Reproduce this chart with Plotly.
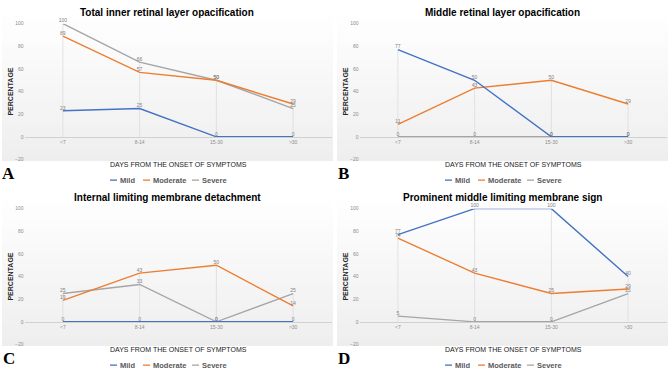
import plotly.graph_objects as go

W, H = 669, 376

categories = ["<7", "8-14", "15-30", ">30"]
series_names = ["Mild", "Moderate", "Severe"]
colors = ["#4472C4", "#ED7D31", "#A5A5A5"]

titles = ["Total inner retinal layer opacification",
          "Middle retinal layer opacification",
          "Internal limiting membrane detachment",
          "Prominent middle limiting membrane sign"]
letters = ["A", "B", "C", "D"]

a_mild = [23, 25, 0, 0]
a_moderate = [89, 57, 50, 29]
a_severe = [100, 66, 50, 25]

b_mild = [77, 50, 0, 0]
b_moderate = [11, 43, 50, 29]
b_severe = [0, 0, 0, 0]

c_mild = [0, 0, 0, 0]
c_moderate = [19, 43, 50, 14]
c_severe = [25, 33, 0, 25]

d_mild = [77, 100, 100, 40]
d_moderate = [74, 43, 25, 29]
d_severe = [5, 0, 0, 25]

y_ticks = [-20, 0, 20, 40, 60, 80, 100]

panels = [
    [a_mild, a_moderate, a_severe],
    [b_mild, b_moderate, b_severe],
    [c_mild, c_moderate, c_severe],
    [d_mild, d_moderate, d_severe],
]

offsets = [(0, 0), (335, 0), (0, 188), (335, 188)]

def px(x):
    return x / W

def py(y):
    return 1 - y / H

fig = go.Figure()
shapes = []
annotations = []
layout_axes = {}

FONT = "Liberation Sans Narrow, Liberation Sans, sans-serif"
TICK_COL = "#8c8c8c"

legend_items = [(110, 118.5), (143, 151.5), (192, 200.5)]

for i, (vals, (ox, oy)) in enumerate(zip(panels, offsets)):
    n = "" if i == 0 else str(i + 1)
    xa, ya = "x" + n, "y" + n
    left, right = ox + 24.5, ox + 331.5
    top, bottom = oy + 21, oy + 159
    xdom = [px(left), px(right)]
    ydom = [py(bottom), py(top)]
    zero_pos = ydom[0] + (ydom[1] - ydom[0]) * 20 / 120

    steps = 28
    g_top, g_bot = oy + 8, oy + 160
    for s in range(steps):
        t = (s + 0.5) / steps
        c = int(round(255 - 17 * t))
        y0 = g_top + (g_bot - g_top) * s / steps
        y1 = g_top + (g_bot - g_top) * (s + 1) / steps
        shapes.append(dict(type="rect", xref="paper", yref="paper",
                           x0=px(ox + 2), x1=px(ox + 333), y0=py(y1 + 0.5), y1=py(y0),
                           fillcolor=f"rgb({c},{c},{c})", line=dict(width=0), layer="below"))

    dx, dy = [], []
    for k, cat in enumerate(categories):
        m = max(v[k] for v in vals)
        dx += [cat, cat, None]
        dy += [0, m, None]
    fig.add_trace(go.Scatter(x=dx, y=dy, mode="lines", xaxis=xa, yaxis=ya,
                             line=dict(color="#dcdcdc", width=0.8),
                             showlegend=False, hoverinfo="skip"))

    for j in [2, 1, 0]:
        fig.add_trace(go.Scatter(
            x=categories, y=vals[j], mode="lines+text", xaxis=xa, yaxis=ya,
            name=series_names[j], line=dict(color=colors[j], width=1.4),
            text=[str(v) for v in vals[j]], textposition="top center",
            textfont=dict(size=5, color="#7f7f7f", family=FONT),
            showlegend=False, cliponaxis=False))

    layout_axes["xaxis" + n] = dict(
        domain=xdom, anchor="free", position=zero_pos, type="category",
        range=[-0.5, 3.5], showgrid=False, zeroline=False,
        showline=True, linecolor="#d0d0d0", linewidth=1, ticks="",
        tickfont=dict(size=5, color=TICK_COL, family=FONT), fixedrange=True)
    layout_axes["yaxis" + n] = dict(
        domain=ydom, anchor=xa, range=[-20, 100], tickvals=y_ticks,
        showgrid=False, zeroline=False, showline=False, ticks="",
        tickfont=dict(size=5, color=TICK_COL, family=FONT), fixedrange=True)

    annotations.append(dict(text="<b>" + titles[i] + "</b>", xref="paper", yref="paper",
                            x=px(ox + 167), y=py(oy + 10), showarrow=False,
                            font=dict(size=10, color="#000000", family=FONT),
                            xanchor="center", yanchor="middle"))
    annotations.append(dict(text="<b>PERCENTAGE</b>", xref="paper", yref="paper",
                            x=px(ox + 11), y=py(oy + 90), showarrow=False, textangle=-90,
                            font=dict(size=7, color="#262626", family=FONT),
                            xanchor="center", yanchor="middle"))
    annotations.append(dict(text="DAYS FROM THE ONSET OF SYMPTOMS", xref="paper", yref="paper",
                            x=px(ox + 178), y=py(oy + 164.5), showarrow=False,
                            font=dict(size=7, color="#1a1a1a", family=FONT),
                            xanchor="center", yanchor="middle"))
    for j, (dash_x, text_x) in enumerate(legend_items):
        shapes.append(dict(type="line", xref="paper", yref="paper",
                           x0=px(ox + dash_x), x1=px(ox + dash_x + 7),
                           y0=py(oy + 180), y1=py(oy + 180),
                           line=dict(color=colors[j], width=1.3)))
        annotations.append(dict(text="<b>" + series_names[j] + "</b>", xref="paper", yref="paper",
                                x=px(ox + text_x), y=py(oy + 180), showarrow=False,
                                font=dict(size=7.5, color="#595959", family=FONT),
                                xanchor="left", yanchor="middle", borderpad=0))
    annotations.append(dict(text="<b>" + letters[i] + "</b>", xref="paper", yref="paper",
                            x=px(ox + 8.5), y=py(oy + 173), showarrow=False,
                            font=dict(size=17, color="#000000", family="Liberation Serif, serif"),
                            xanchor="center", yanchor="middle"))

fig.update_layout(
    width=W, height=H, margin=dict(l=0, r=0, t=0, b=0),
    paper_bgcolor="white", plot_bgcolor="rgba(0,0,0,0)",
    shapes=shapes, annotations=annotations, showlegend=False,
    **layout_axes)

fig.write_html("out.html", config={"displayModeBar": False},
               post_script="document.body.style.margin='0px';document.body.style.overflow='hidden';")
